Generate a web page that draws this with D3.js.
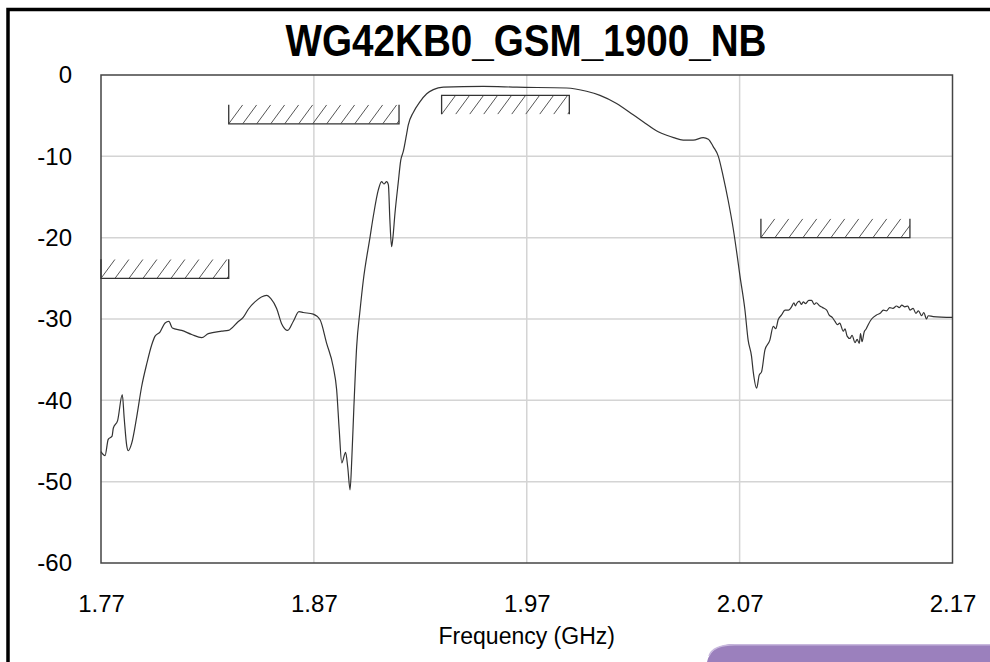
<!DOCTYPE html>
<html>
<head>
<meta charset="utf-8">
<script src="https://cdn.jsdelivr.net/npm/d3@7"></script>
<style>
body{margin:0;background:#fff;}
svg{display:block;}
</style>
</head>
<body>
<script>
// chart data
var title = "WG42KB0_GSM_1900_NB";
var xTicks = [1.77, 1.87, 1.97, 2.07, 2.17];
var yTicks = [0, -10, -20, -30, -40, -50, -60];

// measured response, frequency (GHz) / level (dB)
var freq = [1.7700,1.7719,1.7734,1.7752,1.7758,1.7778,1.7800,1.7809,1.7821,1.7828,
  1.7844,1.7868,1.7891,1.7915,1.7938,1.7954,1.7977,1.8001,1.8019,1.8035,
  1.8079,1.8126,1.8173,1.8204,1.8267,1.8298,1.8345,1.8368,1.8392,1.8423,
  1.8478,1.8498,1.8525,1.8549,1.8577,1.8603,1.8630,1.8650,1.8697,1.8729,
  1.8760,1.8791,1.8807,1.8819,1.8831,1.8849,1.8859,1.8870,1.8878,1.8888,
  1.8901,1.8917,1.8932,1.8964,1.8979,1.9003,1.9018,1.9029,1.9042,1.9050,
  1.9057,1.9065,1.9070,1.9081,1.9096,1.9108,1.9120,1.9136,1.9143,1.9167,
  1.9198,1.9230,1.9261,1.9308,1.9496,1.9653,1.9887,1.9981,2.0044,2.0122,
  2.0200,2.0250,2.0294,2.0320,2.0357,2.0390,2.0435,2.0482,2.0529,2.0553,
  2.0576,2.0600,2.0623,
  2.0646,2.0670,2.0689,2.0701,2.0725,2.0740,2.0756,2.0764,2.0780,2.0792,
  2.0803,2.0819,2.0842,2.0858,2.0870,2.0881,2.0897,2.0913,2.0930,2.0944,
  2.0955,2.0962,2.0968,2.0980,2.0990,2.0999,2.1010,2.1025,2.1038,2.1050,
  2.1060,2.1077,2.1090,2.1109,2.1120,2.1135,2.1148,2.1160,2.1170,2.1187,
  2.1195,2.1205,2.1218,2.1228,2.1242,2.1252,2.1262,2.1268,2.1275,2.1285,
  2.1295,2.1304,2.1320,2.1343,2.1360,2.1375,2.1390,2.1405,2.1420,2.1437,
  2.1450,2.1462,2.1476,2.1490,2.1500,2.1515,2.1528,2.1540,2.1555,2.1565,
  2.1578,2.1586,2.1609,2.1700];
var level = [-46.3,-46.8,-44.8,-44.4,-43.4,-42.5,-39.3,-42.2,-45.6,-46.2,
  -45.3,-42.0,-38.3,-35.5,-33.2,-32.1,-31.6,-30.5,-30.3,-31.1,
  -31.4,-31.9,-32.3,-31.8,-31.5,-31.4,-30.3,-29.8,-28.8,-27.9,
  -27.1,-27.5,-28.7,-30.6,-31.4,-30.3,-29.1,-29.2,-29.4,-30.1,
  -33.0,-35.9,-38.7,-43.6,-47.7,-46.4,-48.2,-51.0,-47.3,-40.8,
  -33.4,-28.9,-25.3,-19.9,-17.4,-14.1,-13.1,-13.4,-13.1,-13.5,
  -17.8,-21.1,-20.3,-17.0,-13.3,-10.5,-9.4,-7.2,-6.2,-4.6,
  -3.3,-2.3,-1.8,-1.5,-1.4,-1.5,-1.6,-2.0,-2.5,-3.5,
  -4.9,-5.8,-6.6,-7.0,-7.4,-7.7,-8.0,-8.0,-7.7,-7.9,
  -8.8,-10.0,-12.5,
  -15.4,-18.9,-22.3,-24.6,-28.9,-32.6,-34.6,-36.5,-38.5,-36.9,
  -36.5,-33.8,-32.6,-30.9,-31.2,-30.1,-29.5,-28.9,-28.9,-28.5,
  -28.0,-28.4,-28.1,-27.8,-28.2,-27.9,-28.1,-27.7,-27.7,-28.2,
  -28.0,-28.4,-28.6,-28.9,-29.5,-29.8,-30.3,-30.7,-30.5,-31.5,
  -31.2,-32.1,-32.4,-32.0,-32.9,-32.5,-33.0,-31.8,-32.8,-31.6,
  -31.2,-30.7,-30.0,-29.5,-29.3,-28.9,-29.0,-28.6,-28.7,-28.4,
  -28.6,-28.3,-28.5,-28.4,-28.9,-28.7,-29.3,-29.0,-29.6,-29.2,
  -30.0,-29.6,-29.7,-29.8];

// spec masks
var maskStart = [1.77, 1.83, 1.93, 2.08];
var maskEnd   = [1.83, 1.91, 1.99, 2.15];
var maskLevel = [-25, -6, -2.5, -20];
var maskSide  = ["up", "up", "down", "up"];   // side the hatching sits on

var W = 990, H = 662;
var pL = 101, pR = 952.5, pT = 75, pB = 563;

var svg = d3.select("body").append("svg")
  .attr("width", W).attr("height", H);

var x = d3.scaleLinear().domain([1.77, 2.17]).range([pL, pR]);
var y = d3.scaleLinear().domain([-60, 0]).range([pB, pT]);

// grid
svg.append("g").selectAll("line")
  .data(xTicks.slice(1, -1)).enter().append("line")
  .attr("x1", d => x(d)).attr("x2", d => x(d))
  .attr("y1", pT).attr("y2", pB)
  .attr("stroke", "#d4d4d4").attr("stroke-width", 1.5);
svg.append("g").selectAll("line")
  .data(yTicks.slice(1, -1)).enter().append("line")
  .attr("x1", pL).attr("x2", pR)
  .attr("y1", d => y(d)).attr("y2", d => y(d))
  .attr("stroke", "#d4d4d4").attr("stroke-width", 1.5);

// plot border
svg.append("rect")
  .attr("x", pL).attr("y", pT)
  .attr("width", pR - pL).attr("height", pB - pT)
  .attr("fill", "none").attr("stroke", "#444").attr("stroke-width", 1.5);

// masks
var defs = svg.append("defs");
var hatchH = 19, hatchStep = 14;
maskStart.forEach(function(f0, i){
  var x0 = x(f0), x1 = x(maskEnd[i]), yl = y(maskLevel[i]);
  var yt = maskSide[i] == "up" ? yl - hatchH : yl;
  var yb = maskSide[i] == "up" ? yl : yl + hatchH;
  defs.append("clipPath").attr("id", "clip" + i)
    .append("rect").attr("x", x0).attr("y", yt)
    .attr("width", x1 - x0).attr("height", yb - yt);
  var g = svg.append("g");
  var xs = d3.range(x0, x1, hatchStep);
  g.append("g").attr("clip-path", "url(#clip" + i + ")")
    .selectAll("line").data(xs).enter().append("line")
    .attr("x1", d => d).attr("y1", yb)
    .attr("x2", d => d + hatchStep).attr("y2", yt)
    .attr("stroke", "#555").attr("stroke-width", 1);
  var far = maskSide[i] == "up" ? yt : yb;
  g.append("path")
    .attr("d", "M" + x0 + "," + far + "L" + x0 + "," + yl + "L" + x1 + "," + yl + "L" + x1 + "," + far)
    .attr("fill", "none").attr("stroke", "#333").attr("stroke-width", 1.3);
});

// response curve
var pts = freq.map((f, i) => [f, level[i]]);
svg.append("path")
  .datum(pts)
  .attr("d", d3.line().curve(d3.curveMonotoneX).x(d => x(d[0])).y(d => y(d[1])))
  .attr("fill", "none").attr("stroke", "#333").attr("stroke-width", 1.2);

// axes
var font = "'Liberation Sans', Arial, sans-serif";
var xAxis = svg.append("g").attr("transform", "translate(0," + pB + ")")
  .call(d3.axisBottom(x).tickValues(xTicks).tickSize(0).tickPadding(32).tickFormat(d3.format(".2f")));
var yAxis = svg.append("g").attr("transform", "translate(" + pL + ",0)")
  .call(d3.axisLeft(y).tickValues(yTicks).tickSize(0).tickPadding(29).tickFormat(d => d));
[xAxis, yAxis].forEach(function(a){
  a.select(".domain").remove();
  a.selectAll("text").attr("font-family", font).attr("font-size", 24).attr("fill", "#000");
});

svg.append("text")
  .attr("x", (pL + pR) / 2).attr("y", 644)
  .attr("text-anchor", "middle")
  .attr("font-family", font).attr("font-size", 23)
  .text("Frequency (GHz)");

svg.append("text")
  .attr("x", 526).attr("y", 56)
  .attr("text-anchor", "middle")
  .attr("font-family", font).attr("font-weight", "bold").attr("font-size", 45)
  .attr("textLength", 481).attr("lengthAdjust", "spacingAndGlyphs")
  .text(title);

// frame
svg.append("path")
  .attr("d", "M8,662L8,9.5L990,9.5")
  .attr("fill", "none").attr("stroke", "#000").attr("stroke-width", 3.5);

// purple tab bottom right
svg.append("path")
  .attr("d", "M707,662Q711,644 735,644L990,644L990,662Z")
  .attr("fill", "#9b80bd");
svg.append("path")
  .attr("d", "M709,656Q713,644.8 735,644.8L990,644.8")
  .attr("fill", "none").attr("stroke", "#c8b8dd").attr("stroke-width", 1.5);
</script>
</body>
</html>
